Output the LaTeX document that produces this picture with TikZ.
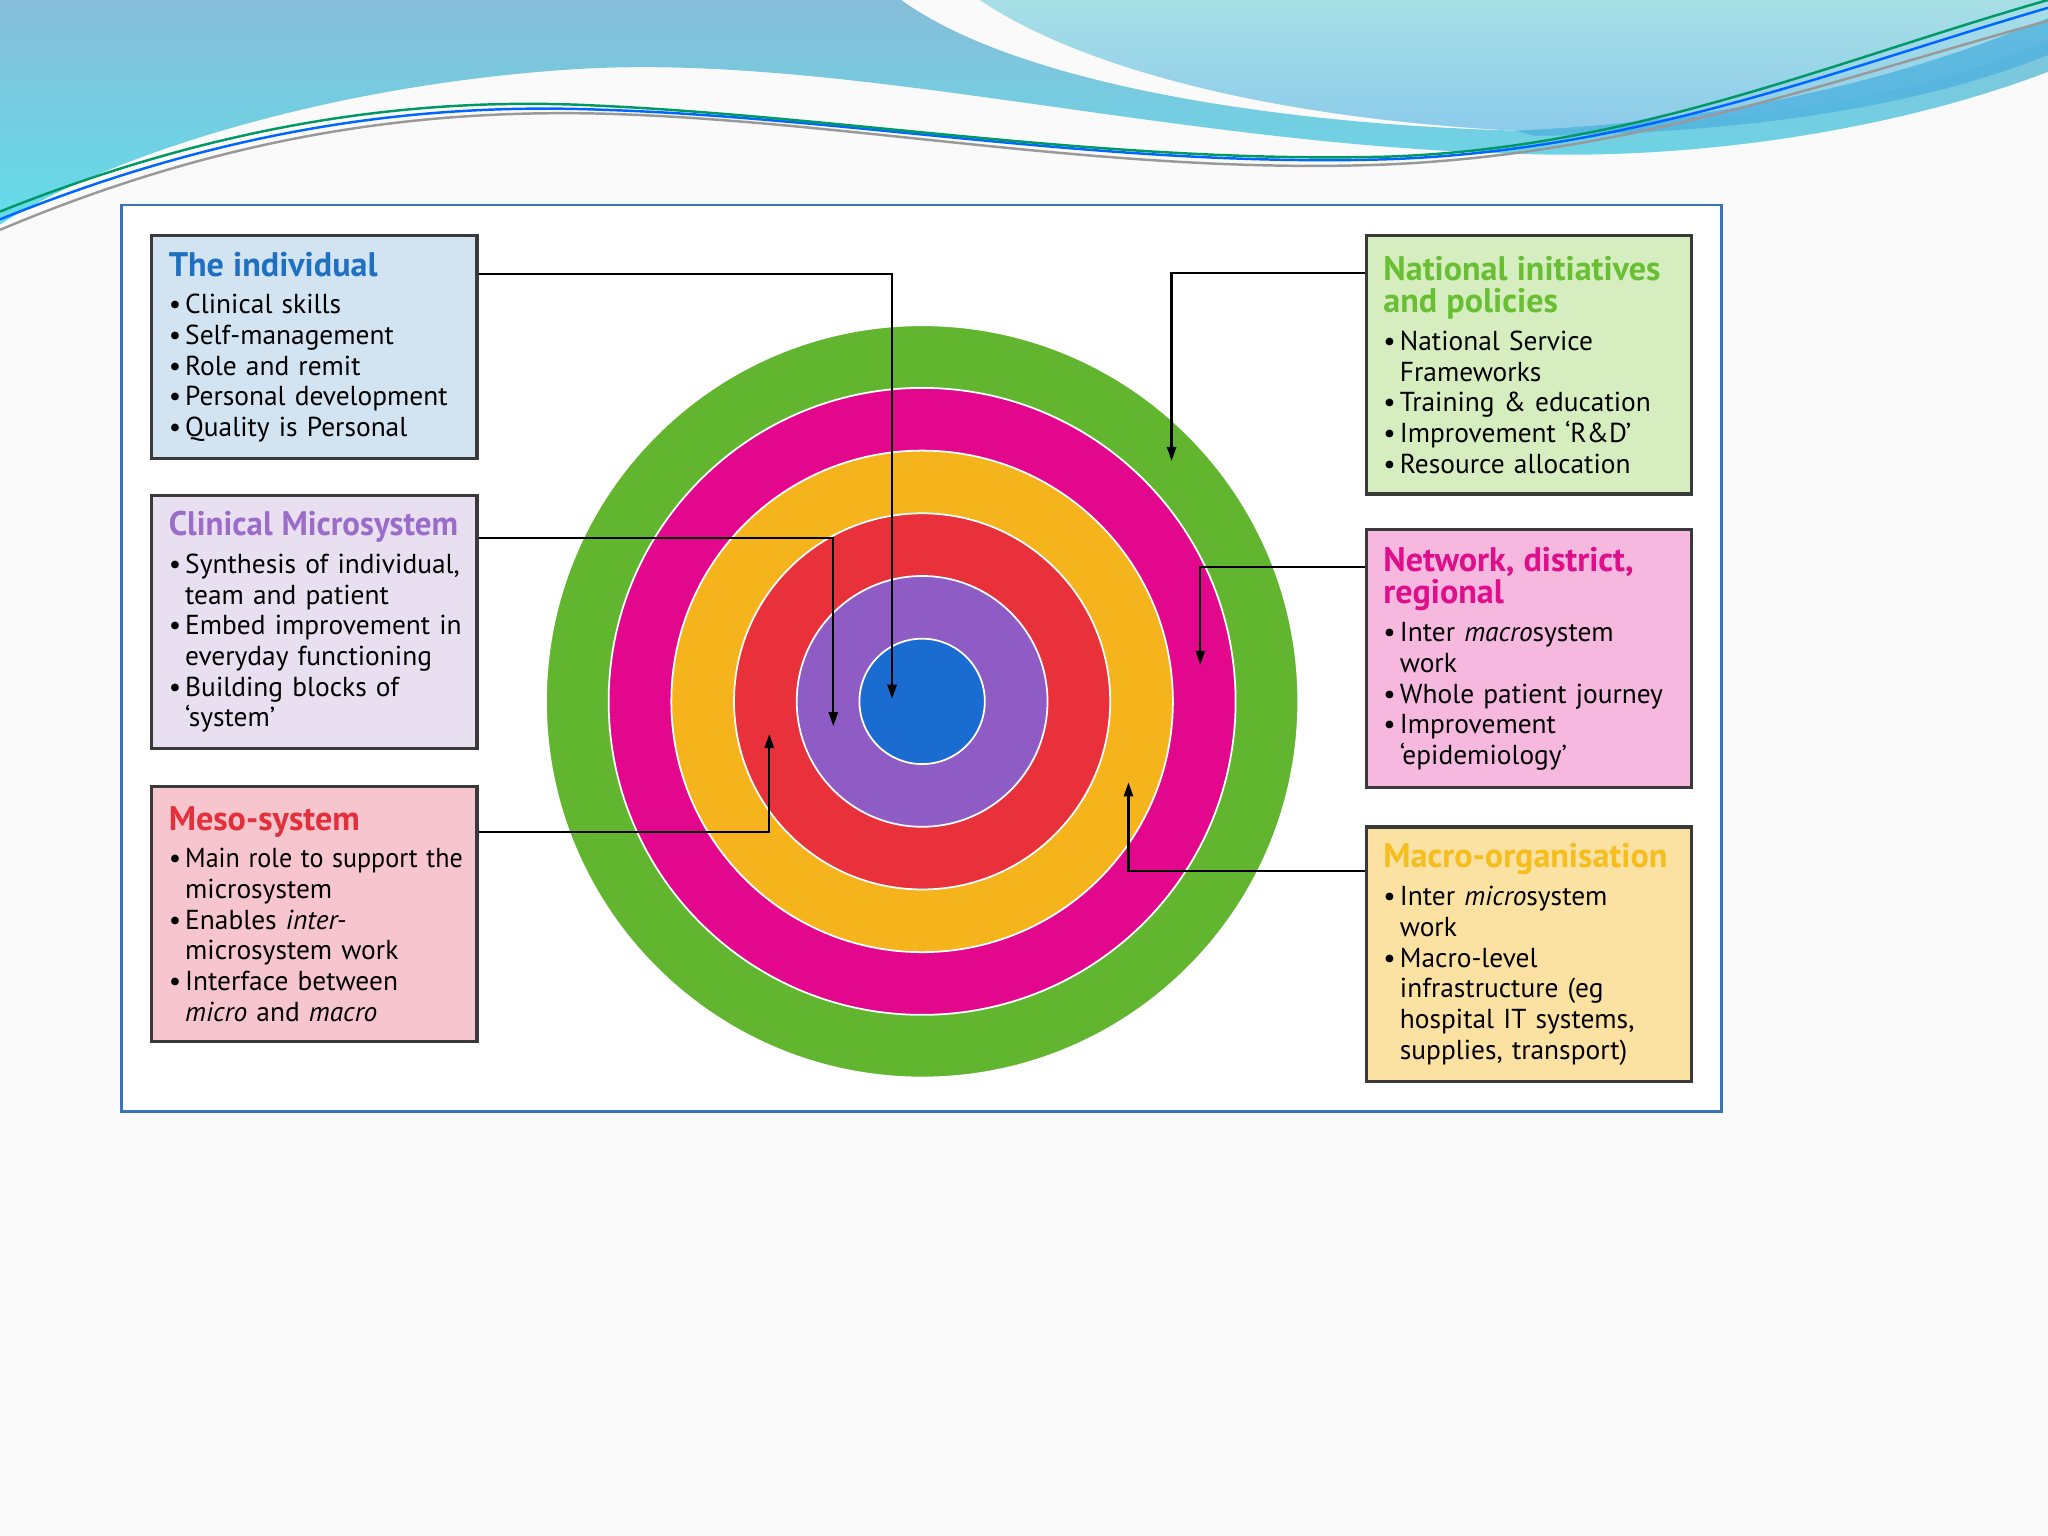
\documentclass[tikz,border=0pt]{standalone}
\usepackage{fontspec}
\setmainfont{PT Sans}
\usetikzlibrary{arrows.meta}
\definecolor{bg}{HTML}{FAFAFA}
\definecolor{hdtop}{HTML}{86BDD8}
\definecolor{hdbot}{HTML}{63DDEA}
\definecolor{hdlt}{HTML}{A8DFE6}
\definecolor{hdlb}{HTML}{8CCBEA}
\definecolor{hdstreak}{HTML}{4FB2DF}
\definecolor{frameblue}{HTML}{3B73B9}
\definecolor{boxline}{HTML}{3A3A3A}
\definecolor{rgreen}{HTML}{62B52E}
\definecolor{rmag}{HTML}{E2078C}
\definecolor{rorange}{HTML}{F5B31C}
\definecolor{rred}{HTML}{E8313B}
\definecolor{rpurple}{HTML}{8F5CC5}
\definecolor{rblue}{HTML}{1A6CD0}
\definecolor{fblue}{HTML}{D2E3F1}
\definecolor{fpurple}{HTML}{E8DFF0}
\definecolor{fred}{HTML}{F6C5CE}
\definecolor{fgreen}{HTML}{D6EEBF}
\definecolor{fmag}{HTML}{F6B8DE}
\definecolor{forange}{HTML}{FBE2A3}
\definecolor{tblue}{HTML}{2070C2}
\definecolor{tpurple}{HTML}{9B6DC9}
\definecolor{tred}{HTML}{E2303C}
\definecolor{tgreen}{HTML}{68BF33}
\definecolor{tmag}{HTML}{DE0F8A}
\definecolor{torange}{HTML}{F5BE1E}
\newcommand\upx{0.371628pt}
\newcommand\bodyfnt{\fontsize{7.8}{8.73}\selectfont\spaceskip=1.55pt plus 0.4pt minus 0.3pt\relax}
\newcommand\bl[1]{\mbox{\makebox[0.6em][l]{\textbullet}#1}}
\newcommand\cl[1]{\mbox{\hspace*{0.6em}#1}}
\newcommand\ttl[2]{\mbox{\color{#1}\fontsize{9.7}{9.5}\selectfont\bfseries #2}}
\tikzset{
  infobox/.style={draw=boxline, line width=0.9pt, anchor=north west,
    inner xsep=13*\upx, inner ysep=0pt, align=left,
    text width=(249-26)*\upx, minimum width=249*\upx,
    font=\bodyfnt},
  conn/.style={draw=black, line width=0.65pt, -{Triangle[length=4pt,width=2.6pt]}},
  ring/.style={draw=white, line width=0.5pt},
  wave/.style={line width=0.7pt}
}
\begin{document}
\begin{tikzpicture}[x=0.0130612cm, y=-0.0130612cm]
\useasboundingbox (0,0) rectangle (1568,1176);
\fill[bg] (0,0) rectangle (1568,1176);
% header
\shade[top color=hdtop, bottom color=hdbot]
  (0,0) -- (690,0) .. controls (780,65) and (980,95) .. (1160,100)
  .. controls (1350,95) and (1480,70) .. (1568,30) -- (1568,55)
  .. controls (1450,100) and (1300,122) .. (1170,118)
  .. controls (900,112) and (650,40) .. (440,53)
  .. controls (250,65) and (80,120) .. (0,172) -- cycle;
\shade[top color=hdlt, bottom color=hdlb]
  (750,0) -- (1568,0) -- (1568,30) .. controls (1480,70) and (1350,95) .. (1160,100)
  .. controls (1000,92) and (840,60) .. (750,0) -- cycle;
\fill[hdstreak, opacity=0.8] (1160,100) .. controls (1350,92) and (1480,50) .. (1568,14)
  -- (1568,42) .. controls (1480,78) and (1350,102) .. (1175,104) -- cycle;
\draw[wave, color=gray!80] (0,176) .. controls (180,100) and (330,84) .. (460,87)
  .. controls (650,92) and (850,134) .. (1060,126) .. controls (1250,118) and (1400,62) .. (1568,16);
\draw[wave, color=blue!60!cyan] (0,168) .. controls (180,95) and (330,79) .. (460,84)
  .. controls (650,90) and (850,128) .. (1060,122) .. controls (1250,116) and (1400,55) .. (1568,6);
\draw[wave, color=teal!80!green] (0,162) .. controls (180,90) and (330,74) .. (460,81)
  .. controls (650,90) and (850,125) .. (1060,120) .. controls (1250,114) and (1400,48) .. (1568,0);
% frame
\draw[frameblue, line width=0.6pt, fill=white] (93,157) rectangle (1318,851);
% rings
\coordinate (ctr) at (706,537);
\filldraw[fill=rgreen, ring] (ctr) circle[radius=288];
\filldraw[fill=rmag, ring] (ctr) circle[radius=240];
\filldraw[fill=rorange, ring] (ctr) circle[radius=192];
\filldraw[fill=rred, ring] (ctr) circle[radius=144];
\filldraw[fill=rpurple, ring] (ctr) circle[radius=96];
\filldraw[fill=rblue, ring] (ctr) circle[radius=48];
% boxes
\node[infobox, fill=fblue, minimum height=171*\upx] (ind) at (115,179) {%
  \ttl{tblue}{The individual}\\[2pt]
  \bl{Clinical skills}\\
  \bl{Self-management}\\
  \bl{Role and remit}\\
  \bl{Personal development}\\
  \bl{Quality is Personal}};
\node[infobox, fill=fpurple, minimum height=194*\upx] (cms) at (115,378) {%
  \ttl{tpurple}{\scalebox{0.965}[1]{Clinical Microsystem}}\\[2pt]
  \bl{Synthesis of individual,}\\
  \cl{team and patient}\\
  \bl{Embed improvement in}\\
  \cl{everyday functioning}\\
  \bl{Building blocks of}\\
  \cl{`system'}};
\node[infobox, fill=fred, minimum height=195*\upx] (meso) at (115,601) {%
  \ttl{tred}{Meso-system}\\[2pt]
  \bl{\scalebox{0.95}[1]{Main role to support the}}\\
  \cl{microsystem}\\
  \bl{Enables \textit{inter-}}\\
  \cl{microsystem work}\\
  \bl{Interface between}\\
  \cl{\textit{micro} and \textit{macro}}};
\node[infobox, fill=fgreen, minimum height=198*\upx] (nat) at (1045,179) {%
  \ttl{tgreen}{National initiatives}\\[0.6pt]\ttl{tgreen}{and policies}\\[2pt]
  \bl{National Service}\\
  \cl{Frameworks}\\
  \bl{Training \& education}\\
  \bl{Improvement `R\&D'}\\
  \bl{Resource allocation}};
\node[infobox, fill=fmag, minimum height=198*\upx] (net) at (1045,404) {%
  \ttl{tmag}{Network, district,}\\[0.6pt]\ttl{tmag}{regional}\\[2pt]
  \bl{Inter \textit{macro}system}\\
  \cl{work}\\
  \bl{Whole patient journey}\\
  \bl{Improvement}\\
  \cl{`epidemiology'}};
\node[infobox, fill=forange, minimum height=195*\upx] (mac) at (1045,632) {%
  \ttl{torange}{Macro-organisation}\\[2pt]
  \bl{Inter \textit{micro}system}\\
  \cl{work}\\
  \bl{Macro-level}\\
  \cl{infrastructure (eg}\\
  \cl{hospital IT systems,}\\
  \cl{supplies, transport)}};
% connectors
\coordinate (e1) at (683,210); \coordinate (t1) at (683,535);
\coordinate (e2) at (638,412); \coordinate (t2) at (638,556);
\coordinate (e3) at (589,637); \coordinate (t3) at (589,562);
\coordinate (e4) at (897,209); \coordinate (t4) at (897,353);
\coordinate (e5) at (919,434); \coordinate (t5) at (919,509);
\coordinate (e6) at (864,667); \coordinate (t6) at (864,599);
\draw[conn] (ind.east |- e1) -- (e1) -- (t1);
\draw[conn] (cms.east |- e2) -- (e2) -- (t2);
\draw[conn] (meso.east |- e3) -- (e3) -- (t3);
\draw[conn] (nat.west |- e4) -- (e4) -- (t4);
\draw[conn] (net.west |- e5) -- (e5) -- (t5);
\draw[conn] (mac.west |- e6) -- (e6) -- (t6);
\end{tikzpicture}
\end{document}
